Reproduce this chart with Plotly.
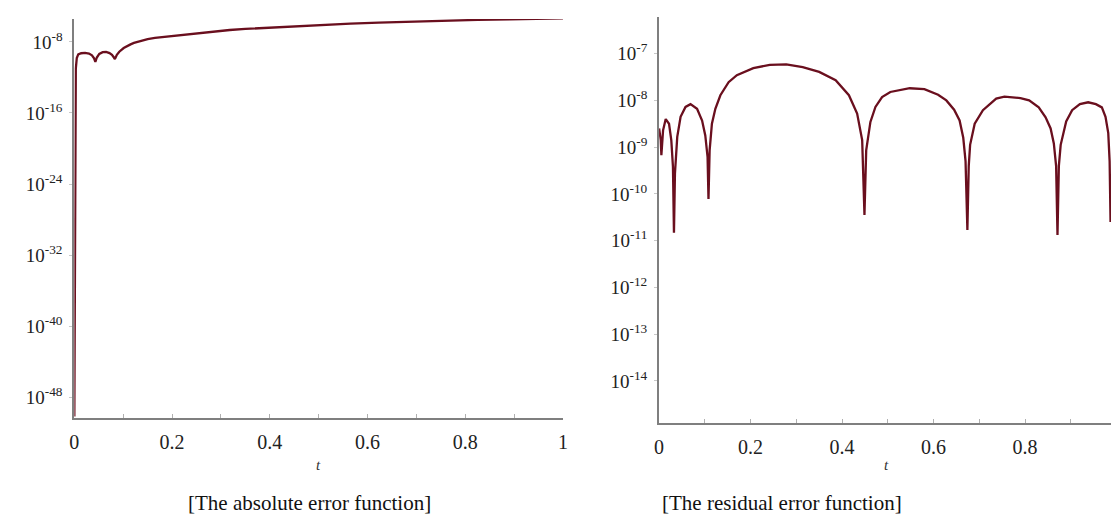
import plotly.graph_objects as go

# ---- data (log10 of the error) ----
abs_t = [0.0, 0.0005, 0.0015, 0.003, 0.005, 0.008, 0.014, 0.022, 0.030, 0.036,
         0.040, 0.043, 0.046, 0.051, 0.058, 0.065, 0.072, 0.077, 0.081, 0.083,
         0.087, 0.092, 0.101, 0.108, 0.115, 0.122, 0.130, 0.140, 0.150, 0.165,
         0.183, 0.200, 0.215, 0.249, 0.285, 0.318, 0.350, 0.385, 0.420, 0.452,
         0.507, 0.565, 0.623, 0.690, 0.757, 0.825, 0.892, 0.950, 1.0]
abs_log = [-50.2, -40.0, -22.0, -11.0, -9.8, -9.4, -9.27, -9.22, -9.3, -9.5,
           -9.8, -10.25, -9.75, -9.35, -9.15, -9.13, -9.25, -9.45, -9.75, -9.92,
           -9.45, -9.1, -8.68, -8.45, -8.27, -8.11, -7.97, -7.80, -7.67, -7.55,
           -7.44, -7.32, -7.22, -6.99, -6.8, -6.65, -6.53, -6.42, -6.3, -6.20,
           -6.03, -5.93, -5.83, -5.71, -5.60, -5.51, -5.44, -5.38, -5.33]

res_t = [0.0, 0.0036, 0.005, 0.0087, 0.0145, 0.0217, 0.0267, 0.0303, 0.0325, 0.0347,
         0.0397, 0.047, 0.0578, 0.0687, 0.083, 0.094, 0.101, 0.106, 0.108, 0.1105,
         0.1155, 0.123, 0.134, 0.152, 0.170, 0.206, 0.242, 0.278, 0.314, 0.350,
         0.386, 0.415, 0.433, 0.444, 0.449, 0.4528, 0.462, 0.473, 0.4875, 0.5055,
         0.548, 0.580, 0.610, 0.628, 0.645, 0.657, 0.665, 0.670, 0.674, 0.677,
         0.680, 0.690, 0.708, 0.737, 0.755, 0.773, 0.790, 0.809, 0.830, 0.845,
         0.856, 0.863, 0.868, 0.871, 0.874, 0.878, 0.890, 0.903, 0.920, 0.938,
         0.955, 0.968, 0.976, 0.982, 0.985, 0.987]
res_log = [-8.6, -8.85, -9.17, -8.64, -8.40, -8.50, -8.85, -9.42, -10.83, -9.56,
           -8.78, -8.35, -8.14, -8.08, -8.18, -8.43, -8.75, -9.21, -10.11, -9.07,
           -8.50, -8.18, -7.89, -7.61, -7.46, -7.31, -7.24, -7.23, -7.29, -7.39,
           -7.57, -7.89, -8.28, -8.85, -10.45, -9.07, -8.46, -8.14, -7.93, -7.82,
           -7.74, -7.76, -7.88, -8.0, -8.2, -8.43, -8.8, -9.3, -10.77, -9.4,
           -8.95, -8.5, -8.21, -7.96, -7.92, -7.93, -7.95, -8.0, -8.15, -8.36,
           -8.6, -8.92, -9.4, -10.88, -9.4, -8.95, -8.45, -8.21, -8.08, -8.04,
           -8.08, -8.15, -8.35, -8.7, -9.3, -10.6]

abs_ticks = [-48, -40, -32, -24, -16, -8]
res_ticks = [-14, -13, -12, -11, -10, -9, -8, -7]
x_ticks = [0, 0.1, 0.2, 0.3, 0.4, 0.5, 0.6, 0.7, 0.8, 0.9, 1.0]
x_tick_text = ["0", "", "0.2", "", "0.4", "", "0.6", "", "0.8", "", "1"]

captions = ["[The absolute error function]", "[The residual error function]"]

# ---- figure ----
LINE = "#6a0f1e"
AX = "#7f7f7f"
SERIF = "Liberation Serif, Times New Roman, serif"

fig = go.Figure()
fig.add_trace(go.Scatter(x=abs_t, y=[10 ** v for v in abs_log], mode="lines",
                         line=dict(color=LINE, width=2.3), xaxis="x", yaxis="y",
                         showlegend=False))
fig.add_trace(go.Scatter(x=res_t, y=[10 ** v for v in res_log], mode="lines",
                         line=dict(color=LINE, width=2.3), xaxis="x2", yaxis="y2",
                         showlegend=False))

xcommon = dict(showgrid=False, zeroline=False, showline=True, linecolor=AX, linewidth=2,
               ticks="inside", ticklen=4, tickcolor="#b0b0b0", tickwidth=1,
               tickvals=x_ticks, ticktext=x_tick_text, ticklabelstandoff=5,
               tickfont=dict(family=SERIF, size=20, color="#222"))
ycommon = dict(type="log", showgrid=False, zeroline=False, showline=True, linecolor=AX,
               linewidth=2, ticks="outside", ticklen=3, tickcolor="#c8c8c8",
               ticklabelstandoff=3,
               tickfont=dict(family=SERIF, size=19, color="#222"))

fig.update_layout(
    width=1116, height=520, margin=dict(l=0, r=0, t=0, b=0),
    paper_bgcolor="white", plot_bgcolor="white",
    xaxis=dict(domain=[0.0627, 0.5045], range=[0, 1.0], anchor="y", **xcommon),
    yaxis=dict(domain=[0.196, 0.9635], range=[-50.37, -5.41], anchor="x",
               tickvals=[10 ** v for v in abs_ticks],
               ticktext=[f"10<sup>-{-v}</sup>" for v in abs_ticks], **ycommon),
    xaxis2=dict(domain=[0.5914, 1.0], range=[0, 0.988], anchor="y2", **xcommon),
    yaxis2=dict(domain=[0.1865, 0.967], range=[-14.90, -6.22], anchor="x2",
                tickvals=[10 ** v for v in res_ticks],
                ticktext=[f"10<sup>-{-v}</sup>" for v in res_ticks], **ycommon),
)

for xc in [316 / 1116, 889 / 1116]:
    fig.add_annotation(x=xc, y=(520 - 465) / 520, xref="paper", yref="paper",
                       xanchor="center", yanchor="middle",
                       text="<i>t</i>", showarrow=False,
                       font=dict(family=SERIF, size=15, color="#333"))

for xc, txt in zip([307 / 1116, 784 / 1116], captions):
    fig.add_annotation(x=xc, y=(520 - 503) / 520, xref="paper", yref="paper",
                       xanchor="center", yanchor="middle",
                       text=txt, showarrow=False,
                       font=dict(family=SERIF, size=21, color="#111"))

fig.write_html("out.html")
